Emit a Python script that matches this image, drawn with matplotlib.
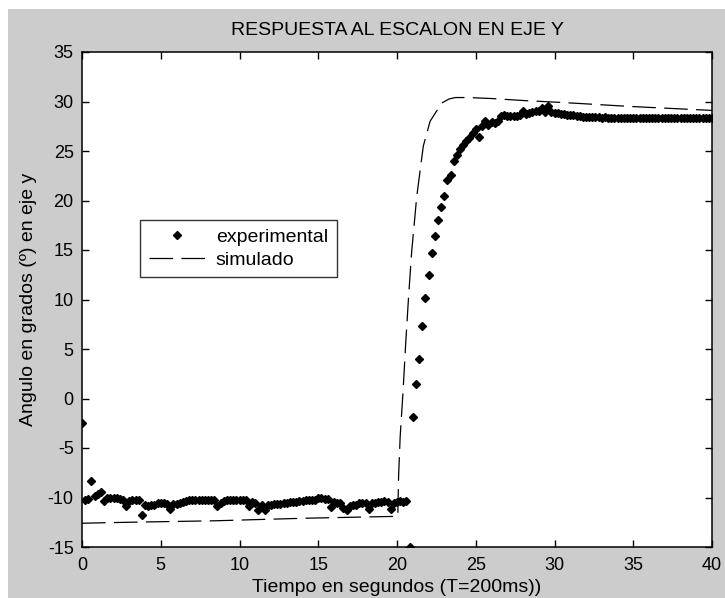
import numpy as np
import matplotlib
matplotlib.use("Agg")
import matplotlib.pyplot as plt
from matplotlib.patches import Rectangle

# ---------------- data ----------------
T = 0.2  # sampling period (s)
y_exp = [
    -2.5, -10.3, -10.2, -8.3, -9.8, -9.6, -9.45, -10.4, -10.0, -10.1,
    -10.1, -10.1, -10.2, -10.3, -10.9, -10.4, -10.3, -10.3, -10.3, -11.8,
    -10.8, -10.9, -10.8, -10.75, -10.6, -10.6, -10.6, -10.7, -11.2, -10.7,
    -10.7, -10.6, -10.5, -10.4, -10.3, -10.3, -10.3, -10.3, -10.3, -10.3,
    -10.3, -10.3, -10.3, -10.9, -10.6, -10.4, -10.3, -10.3, -10.3, -10.3,
    -10.3, -10.3, -10.3, -10.85, -10.5, -10.6, -11.25, -10.8, -11.25, -10.8,
    -10.75, -10.7, -10.7, -10.65, -10.6, -10.6, -10.5, -10.5, -10.45, -10.4,
    -10.35, -10.3, -10.3, -10.3, -10.25, -10.1, -10.1, -10.2, -10.2, -11.0,
    -10.5, -10.6, -10.6, -11.1, -11.25, -10.9, -10.8, -10.75, -10.6, -10.6,
    -10.6, -11.2, -10.6, -10.55, -10.5, -10.5, -10.4, -10.5, -11.2, -10.6,
    -10.5, -10.4, -10.5, -10.4, -15.0, -1.9, 1.5, 3.95, 7.35, 10.2,
    12.5, 14.7, 16.4, 18.0, 19.3, 20.5, 22.1, 22.6, 24.0, 24.6,
    25.2, 25.6, 26.0, 26.3, 26.8, 27.2, 26.4, 27.5, 28.0, 27.6,
    27.9, 27.8, 28.0, 28.5, 28.6, 28.5, 28.5, 28.5, 28.5, 28.6,
    29.0, 28.7, 28.8, 28.9, 29.0, 29.0, 29.3, 28.9, 29.5, 28.9,
    28.8, 28.8, 28.7, 28.7, 28.6, 28.6, 28.6, 28.5, 28.5, 28.4,
    28.4, 28.4, 28.4, 28.4, 28.4, 28.35, 28.4, 28.35, 28.35, 28.35,
    28.35, 28.35, 28.35, 28.3, 28.35, 28.35, 28.35, 28.35, 28.3, 28.35,
    28.35, 28.35, 28.3, 28.35, 28.35, 28.35, 28.35, 28.35, 28.3, 28.35,
    28.35, 28.35, 28.35, 28.3, 28.35, 28.35, 28.35, 28.35, 28.35, 28.35,
    28.35,
]
t_exp = np.arange(len(y_exp)) * T

t_sim = [0.0, 3.0, 8.5, 14.0, 20.05, 20.1, 20.2, 20.38, 20.55, 20.72, 20.93,
         21.25, 21.67, 22.1, 22.5, 22.9, 23.3, 23.7, 24.5, 26.0, 28.0, 30.5,
         34.8, 40.0]
y_sim = [-12.6, -12.5, -12.35, -12.1, -11.9, -7.9, -3.9, 0.6, 5.5, 9.9, 14.8,
         20.35, 25.5, 28.0, 29.0, 29.9, 30.25, 30.4, 30.4, 30.3, 30.1, 29.9,
         29.5, 29.1]

x_ticks = [0, 5, 10, 15, 20, 25, 30, 35, 40]
y_ticks = [-15, -10, -5, 0, 5, 10, 15, 20, 25, 30, 35]

title = "RESPUESTA AL ESCALON EN EJE Y"
xlabel = "Tiempo en segundos (T=200ms))"
ylabel = "Angulo en grados (º) en eje y"
labels = ["experimental", "simulado"]

# ---------------- style ----------------
plt.rcParams['font.family'] = ['Liberation Sans', 'DejaVu Sans']
plt.rcParams['lines.scale_dashes'] = False
plt.rcParams['axes.unicode_minus'] = False
FS = 14
FS_TICK = 13

W, H = 725, 598
fig = plt.figure(figsize=(W / 100, H / 100), dpi=100)
fig.patch.set_facecolor("white")
bg = Rectangle((8 / W, 0), 1 - 8 / W, (H - 9) / H, transform=fig.transFigure,
               facecolor="#cccccc", edgecolor="none", zorder=-10)
fig.patches.append(bg)

ax = fig.add_axes([82 / W, 51 / H, 630 / W, 495 / H])
ax.set_facecolor("white")

ax.plot(t_exp, y_exp, linestyle="none", marker="D", markersize=3.6,
        color="black", label=labels[0])
ln, = ax.plot(t_sim, y_sim, color="black", linewidth=0.9, label=labels[1])
ln.set_dashes((17, 6))

ax.set_xlim(0, 40)
ax.set_ylim(-15, 35)
ax.set_xticks(x_ticks)
ax.set_yticks(y_ticks)
ax.tick_params(direction="in", length=5, width=1, top=True, right=True,
               labelsize=FS_TICK, colors="black")
ax.tick_params(axis="x", pad=7)
ax.tick_params(axis="y", pad=6)
for s in ax.spines.values():
    s.set_linewidth(1.1)
    s.set_color("black")

ax.set_title(title, fontsize=FS, pad=12)
ax.set_xlabel(xlabel, fontsize=FS, labelpad=4)
ax.set_ylabel(ylabel, fontsize=FS, labelpad=8)

leg = ax.legend(loc="upper left", bbox_to_anchor=(0.092, 0.661),
                borderaxespad=0, fontsize=FS, frameon=True, fancybox=False,
                handlelength=2.9, handletextpad=0.55, borderpad=0.45,
                labelspacing=0.25)
leg.get_frame().set_edgecolor("black")
leg.get_frame().set_linewidth(1.0)

fig.savefig("out.png", dpi=100, facecolor=fig.get_facecolor())
